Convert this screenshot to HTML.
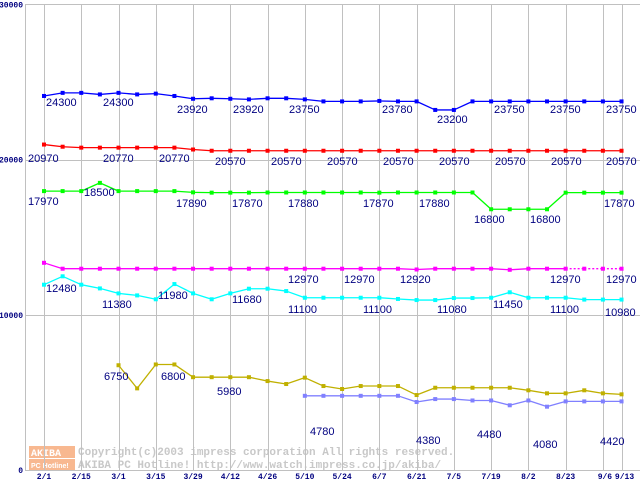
<!DOCTYPE html>
<html><head><meta charset="utf-8"><style>
body{margin:0;background:#fff;width:640px;height:480px;overflow:hidden;font-family:"Liberation Sans",sans-serif}
svg{display:block}
.lbl{font-family:"Liberation Sans",sans-serif;font-size:11px;fill:#000080}
.tk{font-family:"Liberation Mono",monospace;font-size:8px;font-weight:bold;fill:#000080}
.wm{font-family:"Liberation Mono",monospace;font-size:11px;font-weight:bold;fill:#c8c8c8}
</style></head><body>
<svg id="chart" width="640" height="480"></svg>
<script>
const xLabels=["2/1","2/15","3/1","3/15","3/29","4/12","4/26","5/10","5/24","6/7","6/21","7/5","7/19","8/2","8/23","9/6","9/13"];
const xLabelWeeks=[0,2,4,6,8,10,12,14,16,18,20,22,24,26,28,30,31];
const yTicks=[0,10000,20000,30000];
const blueVals=[24100,24300,24300,24200,24300,24200,24250,24100,23920,23950,23920,23880,23950,23950,23880,23750,23750,23750,23780,23750,23750,23200,23200,23750,23750,23750,23750,23750,23750,23750,23750,23750];
const redVals=[20970,20830,20770,20770,20770,20770,20770,20770,20650,20570,20570,20570,20570,20570,20570,20570,20570,20570,20570,20570,20570,20570,20570,20570,20570,20570,20570,20570,20570,20570,20570,20570];
const greenVals=[17970,17970,17970,18500,17970,17970,17970,17970,17890,17870,17870,17870,17880,17880,17880,17880,17880,17880,17870,17880,17880,17880,17880,17880,16800,16800,16800,16800,17870,17870,17870,17870];
const magentaVals=[13350,12970,12970,12970,12970,12970,12970,12970,12970,12970,12970,12970,12970,12970,12970,12970,12970,12970,12970,12970,12920,12970,12970,12970,12970,12900,12970,12970,12970,12970,12970,12970];
const cyanVals=[11940,12480,11940,11700,11380,11250,11000,11980,11380,11000,11380,11680,11680,11530,11100,11100,11100,11100,11100,11020,10950,10950,11080,11080,11100,11450,11100,11100,11100,10980,10980,10980];
const yellowVals=[null,null,null,null,6750,5260,6800,6800,5980,5980,5980,5980,5730,5540,5950,5410,5220,5410,5410,5410,4830,5300,5300,5300,5300,5300,5135,4940,4940,5135,4940,4875];
const lavenderVals=[null,null,null,null,null,null,null,null,null,null,null,null,null,null,4780,4780,4780,4780,4780,4780,4380,4570,4570,4480,4480,4170,4480,4080,4420,4420,4420,4420];
const seriesColors=["#0000ff","#ff0000","#00ff00","#ff00ff","#00ffff","#c0b000","#8080ff"];
const seriesNames=["series-blue","series-red","series-green","series-magenta","series-cyan","series-yellow","series-lavender"];
const allSeries=[blueVals,redVals,greenVals,magentaVals,cyanVals,yellowVals,lavenderVals];
const labelText=["24300","24300","23920","23920","23750","23780","23200","23750","23750","23750",
"20970","20770","20770","20570","20570","20570","20570","20570","20570","20570","20570",
"17970","18500","17890","17870","17880","17870","17880","16800","16800","17870",
"12970","12970","12920","12970","12970",
"12480","11380","11980","11680","11100","11100","11080","11450","11100","10980",
"6750","6800","5980",
"4780","4380","4480","4080","4420"];
const labelX=[46,103,177,233,289,382,437,494,550,606, 28,103,159,215,271,327,383,439,495,551,606, 28,84,176,232,288,363,419,474,530,604, 288,344,400,550,606, 46,102,158,232,288,363,437,493,550,605, 104,161,217, 310,416,477,533,600];
const labelY=[106,106,113,113,113,113,123,113,113,113, 162,162,162,165,165,165,165,165,165,165,165, 205,196,207,207,207,207,207,223,223,207, 283,283,283,283,283, 292,308,299,303,313,313,313,308,313,316, 380,380,395, 435,444,438,448,445];

const svg=document.getElementById('chart');
const NS='http://www.w3.org/2000/svg';
const X0=44,DX=18.63,Y0=470,K=0.01552;
const xs=i=>X0+DX*i;
const ys=v=>Y0-v*K;
function mk(tag,attrs,parent){const e=document.createElementNS(NS,tag);for(const k in attrs)e.setAttribute(k,attrs[k]);(parent||svg).appendChild(e);return e;}

const wm=mk('g',{});


mk('rect',{x:29,y:446,width:46,height:12,fill:'#f8b890'},wm);
mk('rect',{x:29,y:459,width:46,height:11,fill:'#f8b890'},wm);
const wt1=mk('text',{x:31,y:456,class:'wm',style:'fill:#fff;font-size:10px'},wm);wt1.textContent='AKIBA';
const wt2=mk('text',{x:31,y:468,style:'fill:#fff;font-size:7px;font-family:Liberation Sans;font-weight:bold'},wm);wt2.textContent='PC Hotline!';
const wt3=mk('text',{x:78,y:455,class:'wm'},wm);wt3.textContent='Copyright(c)2003 impress corporation All rights reserved.';
const wt4=mk('text',{x:78,y:468,class:'wm'},wm);wt4.textContent='AKIBA PC Hotline!  http://www.watch.impress.co.jp/akiba/';

const grid=mk('g',{stroke:'#c0c0c0','stroke-width':1});


mk('line',{x1:25.5,y1:4,x2:25.5,y2:471},grid);
xLabelWeeks.forEach(w=>{mk('line',{x1:Math.round(xs(w))+0.5,y1:4,x2:Math.round(xs(w))+0.5,y2:471},grid);});
yTicks.forEach(v=>{mk('line',{x1:25,y1:Math.round(ys(v))+0.5,x2:640,y2:Math.round(ys(v))+0.5},grid);});

yTicks.forEach(v=>{const t=mk('text',{x:23,y:ys(v)+3,class:'tk','text-anchor':'end'});


t.textContent=String(v);});
xLabels.forEach((s,i)=>{const t=mk('text',{x:xs(xLabelWeeks[i])+(s==='9/6'?2:s==='9/13'?3:0),y:479,class:'tk','text-anchor':'middle'});


t.textContent=s;});

allSeries.forEach((vals,si)=>{
  const g=mk('g',{});
  
  
  const col=seriesColors[si];
  for(let i=1;i<vals.length;i++){
    if(vals[i]==null||vals[i-1]==null)continue;
    const a={x1:xs(i-1),y1:ys(vals[i-1]),x2:xs(i),y2:ys(vals[i]),stroke:col,'stroke-width':1.3};
    if(si===3&&i>=29)a['stroke-dasharray']='2,2';
    mk('line',a,g);
  }
  vals.forEach((v,i)=>{if(v==null)return;
    const r=mk('rect',{x:xs(i)-2,y:ys(v)-2,width:4,height:4,fill:col},g);
    
    
  });
});

labelText.forEach((s,i)=>{const t=mk('text',{x:labelX[i],y:labelY[i],class:'lbl'});


t.textContent=s;});
</script>
</body></html>
